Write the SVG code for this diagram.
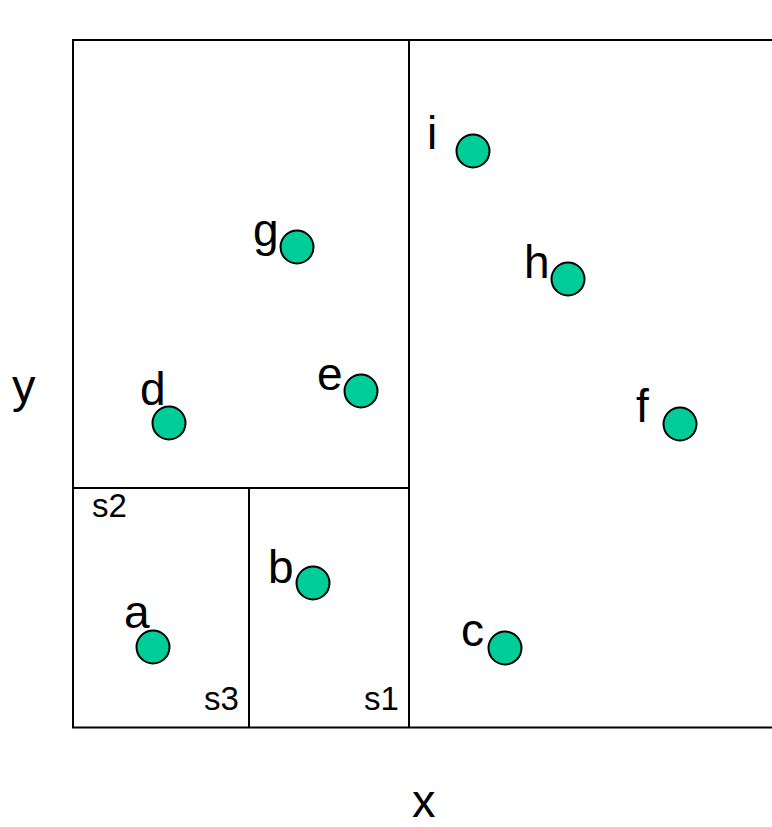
<svg xmlns="http://www.w3.org/2000/svg" width="772" height="827" viewBox="0 0 772 827">
  <style>
    .frame { fill: none; stroke: #000; stroke-width: 2; }
    .pt { fill: #00CC99; stroke: #000; stroke-width: 2; }
    .lbl { font-family: "Liberation Sans", Arial, sans-serif; font-size: 46px; fill: #000; }
    .axis { font-family: "Liberation Sans", Arial, sans-serif; font-size: 47px; fill: #000; }
    .reg { font-family: "Liberation Sans", Arial, sans-serif; font-size: 33px; fill: #000; }
  </style>
  <rect width="772" height="827" fill="#fff"/>

  <!-- space partition -->
  <g id="partition">
    <path class="frame" d="M 773 40 H 73 V 727.5 H 773"/>
    <line class="frame" x1="409" y1="40" x2="409" y2="727.5"/>
    <line class="frame" x1="73" y1="488" x2="409" y2="488"/>
    <line class="frame" x1="249" y1="488" x2="249" y2="727.5"/>
  </g>

  <!-- region labels -->
  <g id="regions">
    <text class="reg" x="92" y="517">s2</text>
    <text class="reg" x="204" y="710">s3</text>
    <text class="reg" x="364" y="710">s1</text>
  </g>

  <!-- axis labels -->
  <g id="axes">
    <text class="axis" x="412" y="817">x</text>
    <text class="axis" x="12" y="402">y</text>
  </g>

  <!-- points -->
  <g id="i"><circle class="pt" cx="473" cy="151" r="16.5"/><text class="lbl" x="427" y="149">i</text></g>
  <g id="g"><circle class="pt" cx="297" cy="247" r="16.5"/><text class="lbl" x="253" y="246">g</text></g>
  <g id="h"><circle class="pt" cx="568" cy="279" r="16.5"/><text class="lbl" x="524" y="278">h</text></g>
  <g id="e"><circle class="pt" cx="361" cy="391" r="16.5"/><text class="lbl" x="317" y="390">e</text></g>
  <g id="d"><circle class="pt" cx="169" cy="423" r="16.5"/><text class="lbl" x="140" y="405">d</text></g>
  <g id="f"><circle class="pt" cx="680" cy="424" r="16.5"/><text class="lbl" x="636" y="422">f</text></g>
  <g id="b"><circle class="pt" cx="313" cy="583" r="16.5"/><text class="lbl" x="268" y="583">b</text></g>
  <g id="a"><circle class="pt" cx="153" cy="647" r="16.5"/><text class="lbl" x="124" y="628">a</text></g>
  <g id="c"><circle class="pt" cx="505" cy="648" r="16.5"/><text class="lbl" x="461" y="646">c</text></g>
</svg>
